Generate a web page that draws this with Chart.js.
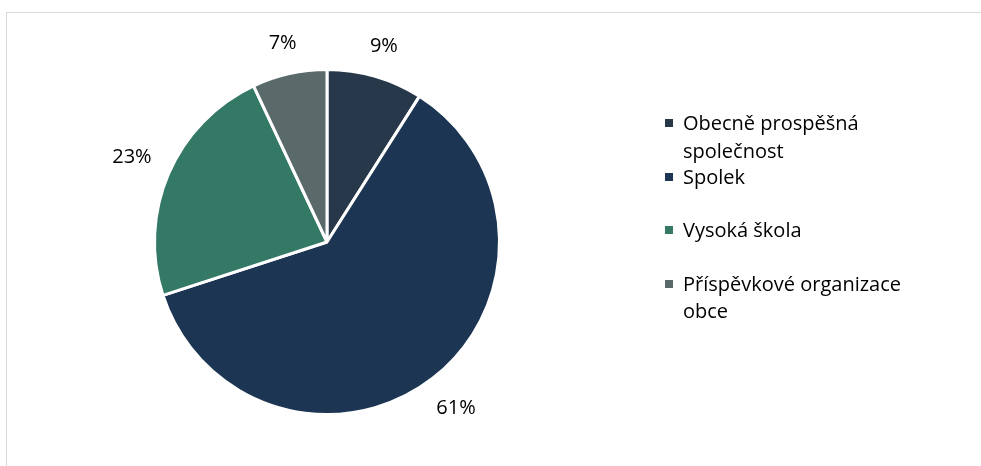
<!DOCTYPE html>
<html>
<head>
<meta charset="utf-8">
<script src="https://cdn.jsdelivr.net/npm/chart.js@4/dist/chart.umd.min.js"></script>
<style>
  html, body { margin: 0; padding: 0; background: #fff; }
  body { width: 981px; height: 466px; position: relative; overflow: hidden; font-family: "Open Sans", sans-serif; }
  #frame { position: absolute; left: 6px; top: 12px; width: 1200px; height: 800px; border: 1px solid #d9d9d9; box-sizing: border-box; }
  #wrap { position: absolute; left: 0; top: 0; width: 981px; height: 466px; }
  #legend { position: absolute; left: 665px; top: 109px; width: 300px; font-size: 20px; line-height: 27.5px; color: #000; }
  .item { position: relative; height: 53.5px; padding-left: 18px; }
  .sq { position: absolute; left: 0; top: 10px; width: 8px; height: 8px; }
</style>
</head>
<body>
<div id="frame"></div>
<div id="wrap"><canvas id="c"></canvas></div>
<div id="legend"></div>
<script>
// Data
const kategorie = ['Obecně prospěšná společnost', 'Spolek', 'Vysoká škola', 'Příspěvkové organizace obce'];
const legendaRadky = [['Obecně prospěšná', 'společnost'], ['Spolek'], ['Vysoká škola'], ['Příspěvkové organizace', 'obce']];
const podily = [9, 61, 23, 7];
const barvy = ['#263849', '#1b3552', '#337966', '#5a6a6b'];

// Popisky procent vně výsečí
const outsideLabels = {
  id: 'outsideLabels',
  afterDatasetsDraw(chart) {
    const ctx = chart.ctx;
    const meta = chart.getDatasetMeta(0);
    const total = podily.reduce((s, v) => s + v, 0);
    ctx.save();
    ctx.font = '20px "Open Sans"';
    ctx.fillStyle = '#000';
    ctx.textAlign = 'center';
    ctx.textBaseline = 'middle';
    meta.data.forEach((arc, i) => {
      const p = arc.getProps(['x', 'y', 'startAngle', 'endAngle', 'outerRadius'], true);
      const mid = (p.startAngle + p.endAngle) / 2;
      const dx = Math.cos(mid), dy = Math.sin(mid);
      const txt = Math.round(podily[i] / total * 100) + '%';
      const w = ctx.measureText(txt).width, h = 20;
      const d = p.outerRadius + 18 + Math.abs(dx) * w / 2 + Math.abs(dy) * h / 2;
      ctx.fillText(txt, p.x + dx * d, p.y + dy * d);
    });
    ctx.restore();
  }
};

new Chart(document.getElementById('c'), {
  type: 'pie',
  data: {
    labels: kategorie,
    datasets: [{ data: podily, backgroundColor: barvy, borderColor: '#fff', borderWidth: 3, hoverOffset: 0 }]
  },
  options: {
    responsive: true, maintainAspectRatio: false, animation: false,
    radius: 172.5,
    layout: { padding: { left: 157, right: 484, top: 72, bottom: 54 } },
    plugins: { legend: { display: false }, tooltip: { enabled: false } }
  },
  plugins: [outsideLabels]
});

// Legenda (HTML)
const leg = document.getElementById('legend');
legendaRadky.forEach((radky, i) => {
  const it = document.createElement('div');
  it.className = 'item';
  it.innerHTML = `<span class="sq" style="background:${barvy[i]}"></span>` + radky.join('<br>');
  leg.appendChild(it);
});
</script>
</body>
</html>
